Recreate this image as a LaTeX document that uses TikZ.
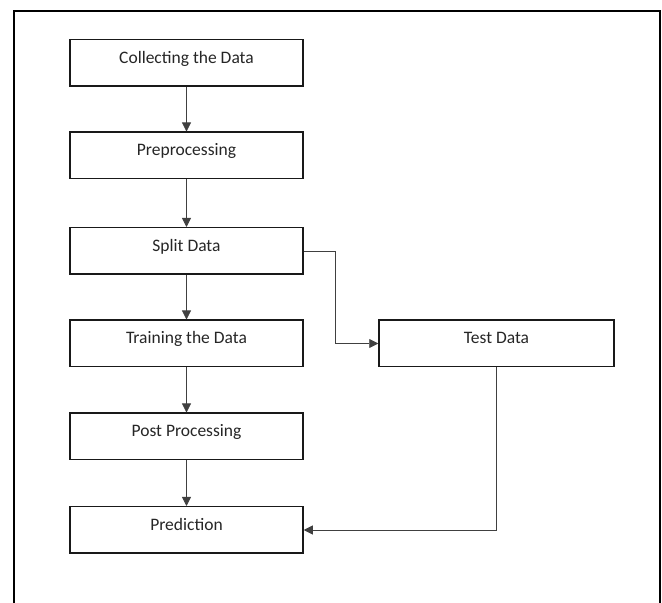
\documentclass[tikz,border=0pt]{standalone}
\usepackage{fontspec}
\setmainfont{Carlito}
\usetikzlibrary{arrows.meta}
\begin{document}
\begin{tikzpicture}[x=1pt,y=1pt,
  stepbox/.style={draw=black!90, line width=1.5pt, inner sep=0pt, minimum width=233pt,
    text height=23.5pt, text depth=23pt, font=\fontsize{17.5}{20}\selectfont, text=black!85},
  conn/.style={draw=black!75, line width=0.8pt, -{Triangle[length=9pt,width=9pt]}}]
\useasboundingbox (0,0) rectangle (662,603);
\fill[white] (0,0) rectangle (662,603);
% frame
\draw[line width=2pt, line join=miter] (14,0) -- (14,592) -- (660,592) -- (660,0);
% boxes
\node[stepbox] (collect) at (186.5,540) {Collecting the Data};
\node[stepbox] (prep) at (186.5,447.5) {Preprocessing};
\node[stepbox] (split) at (186.5,352) {Split Data};
\node[stepbox] (train) at (186.5,259.5) {Training the Data};
\node[stepbox] (post) at (186.5,166.5) {Post Processing};
\node[stepbox] (pred) at (186.5,73) {Prediction};
\node[stepbox, minimum width=235pt] (test) at (496.5,259.5) {Test Data};
% connectors
\draw[conn] (collect) -- (prep);
\draw[conn] (prep) -- (split);
\draw[conn] (split) -- (train);
\draw[conn] (train) -- (post);
\draw[conn] (post) -- (pred);
\draw[conn] (split.east) -- ++(32,0) |- (test.west);
\draw[conn] (test.south) |- (pred.east);
\end{tikzpicture}
\end{document}
